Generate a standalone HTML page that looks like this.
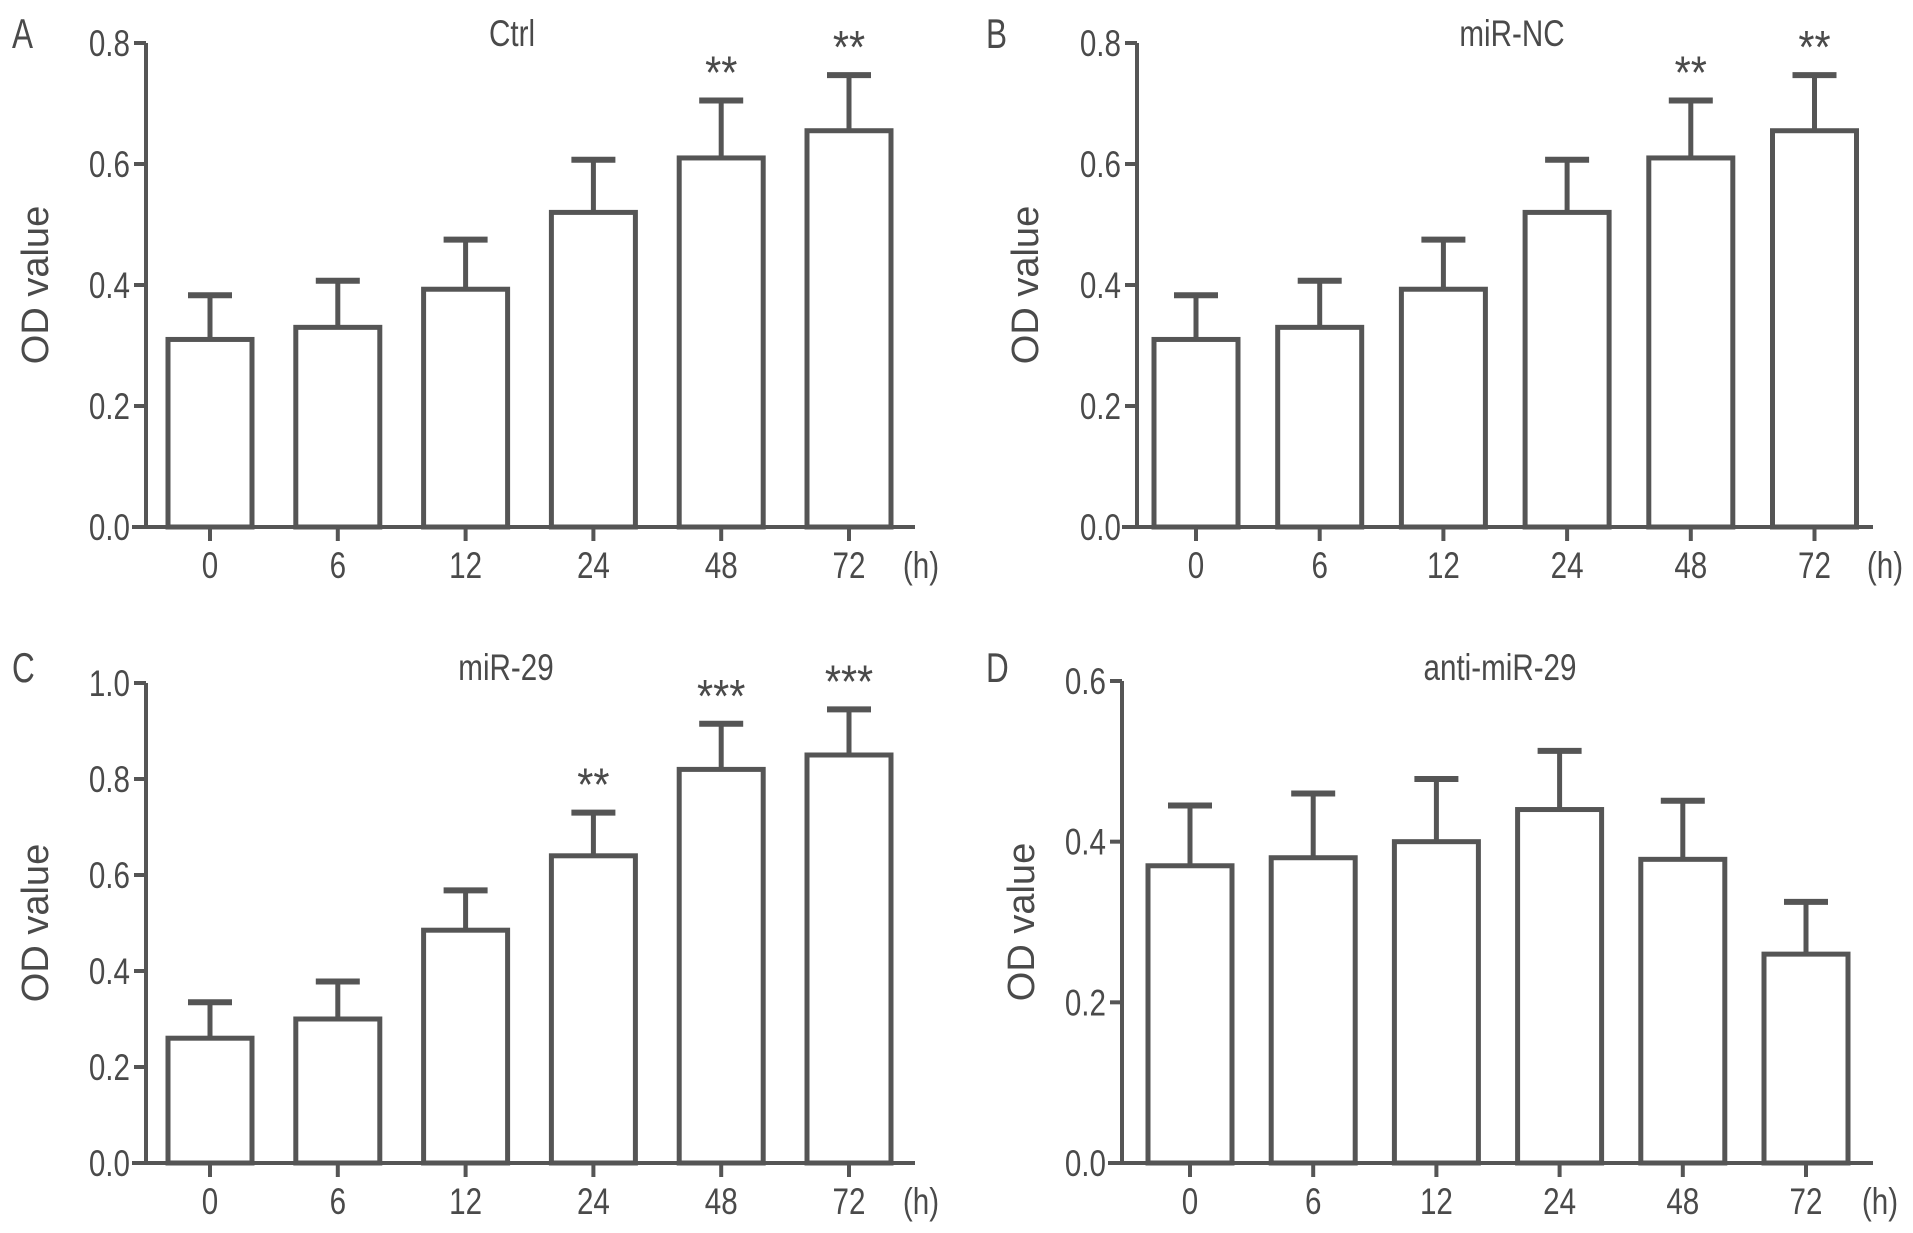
<!DOCTYPE html>
<html><head><meta charset="utf-8"><style>
html,body{margin:0;padding:0;background:#fff;}
svg{display:block;font-family:"Liberation Sans",sans-serif;}
text{fill:#4a4a4a;}
</style></head><body>
<svg id="fig" width="1913" height="1233" viewBox="0 0 1913 1233" xmlns="http://www.w3.org/2000/svg"></svg>
<script>
const categories = ["0","6","12","24","48","72"];
const ctrlValues = [0.31,0.33,0.393,0.52,0.61,0.655];
const ctrlErrors = [0.073,0.077,0.082,0.087,0.095,0.092];
const ctrlStars = ["","","","","**","**"];
const ncValues = [0.31,0.33,0.393,0.52,0.61,0.655];
const ncErrors = [0.073,0.077,0.082,0.087,0.095,0.092];
const ncStars = ["","","","","**","**"];
const mir29Values = [0.26,0.30,0.485,0.64,0.82,0.85];
const mir29Errors = [0.075,0.078,0.083,0.09,0.095,0.095];
const mir29Stars = ["","","","**","***","***"];
const antiValues = [0.37,0.38,0.40,0.44,0.378,0.26];
const antiErrors = [0.075,0.08,0.078,0.073,0.073,0.065];
const antiStars = ["","","","","",""];
const ticks08 = [0.0,0.2,0.4,0.6,0.8];
const ticks10 = [0.0,0.2,0.4,0.6,0.8,1.0];
const ticks06 = [0.0,0.2,0.4,0.6];

const svg = document.getElementById('fig');
const NS = "http://www.w3.org/2000/svg";
const C = "#555";
function mk(tag, attrs, parent){
  const e = document.createElementNS(NS, tag);
  for (const k in attrs) e.setAttribute(k, attrs[k]);
  (parent||svg).appendChild(e);
  return e;
}
function txt(parent, x, y, s, size, anchor, sx){
  const t = mk('text', {x:0, y:0, 'font-size':size, 'text-anchor':anchor||'middle',
    transform:'translate(' + x + ',' + y + ') scale(' + (sx||0.8) + ',1)'}, parent);
  t.textContent = s;
  return t;
}

function panel(cfg){
  const g = mk('g', {});
  
  
  const ymax = cfg.ticks[cfg.ticks.length-1];
  const yS = v => cfg.y0 - (cfg.y0 - cfg.yTop) * v / ymax;
  const xS = i => cfg.c0 + i * cfg.step;
  const ya = mk('line', {x1:cfg.x0, y1:cfg.yTop, x2:cfg.x0, y2:cfg.y0, stroke:C, 'stroke-width':4}, g);
  
  
  const xa = mk('line', {x1:cfg.xa0, y1:cfg.y0, x2:cfg.xa1, y2:cfg.y0, stroke:C, 'stroke-width':4}, g);
  
  
  cfg.ticks.forEach(v => {
    mk('line', {x1:cfg.x0-12, y1:yS(v), x2:cfg.x0, y2:yS(v), stroke:C, 'stroke-width':4}, g);
    const t = txt(g, cfg.x0-16, yS(v)+13, v.toFixed(1), 37, 'end');
    
    
  });
  categories.forEach((c, i) => {
    const x = xS(i);
    mk('line', {x1:x, y1:cfg.y0, x2:x, y2:cfg.y0+14, stroke:C, 'stroke-width':4}, g);
    const t = txt(g, x, cfg.y0+51, c, 37);
    
    
    const v = cfg.values[i], e = cfg.errors[i];
    const top = yS(v+e);
    mk('line', {x1:x, y1:yS(v), x2:x, y2:top, stroke:C, 'stroke-width':5}, g);
    mk('line', {x1:x-22, y1:top, x2:x+22, y2:top, stroke:C, 'stroke-width':6}, g);
    const b = mk('rect', {x:x-42, y:yS(v), width:84, height:cfg.y0-yS(v), fill:'#fff', stroke:C, 'stroke-width':5}, g);
    
    
    if (cfg.stars[i]) {
      const s = txt(g, x, top-12, cfg.stars[i], 46, 'middle', 0.9);
      
      
    }
  });
  const h = txt(g, cfg.hx, cfg.y0+51, '(h)', 37);
  
  
  const tt = txt(g, cfg.tx, cfg.ty, cfg.title, 37);
  
  
  const lb = txt(g, cfg.lx, cfg.ty+2, cfg.letter, 42, 'start', 0.75);
  
  
  const yl = mk('text', {x:0, y:0, 'font-size':38, 'text-anchor':'middle', transform:'translate(' + (cfg.ylx) + ',' + ((cfg.y0+cfg.yTop)/2) + ') rotate(-90)'}, g);
  yl.textContent = 'OD value';
  
  
}

panel({name:'panel-a-ctrl', letter:'A', title:'Ctrl', x0:146, y0:527, yTop:43, ticks:ticks08, c0:210, step:127.8, xa0:132, xa1:915, hx:921, tx:512, ty:46, lx:12, ylx:48, values:ctrlValues, errors:ctrlErrors, stars:ctrlStars});
panel({name:'panel-b-mir-nc', letter:'B', title:'miR-NC', x0:1137, y0:527, yTop:43, ticks:ticks08, c0:1196, step:123.7, xa0:1122, xa1:1873, hx:1885, tx:1512, ty:46, lx:986, ylx:1038, values:ncValues, errors:ncErrors, stars:ncStars});
panel({name:'panel-c-mir-29', letter:'C', title:'miR-29', x0:146, y0:1163, yTop:683, ticks:ticks10, c0:210, step:127.8, xa0:132, xa1:915, hx:921, tx:506, ty:680, lx:12, ylx:48, values:mir29Values, errors:mir29Errors, stars:mir29Stars});
panel({name:'panel-d-anti-mir-29', letter:'D', title:'anti-miR-29', x0:1122, y0:1163, yTop:681, ticks:ticks06, c0:1190, step:123.2, xa0:1108, xa1:1873, hx:1880, tx:1500, ty:680, lx:986, ylx:1034, values:antiValues, errors:antiErrors, stars:antiStars});
</script>
</body></html>
